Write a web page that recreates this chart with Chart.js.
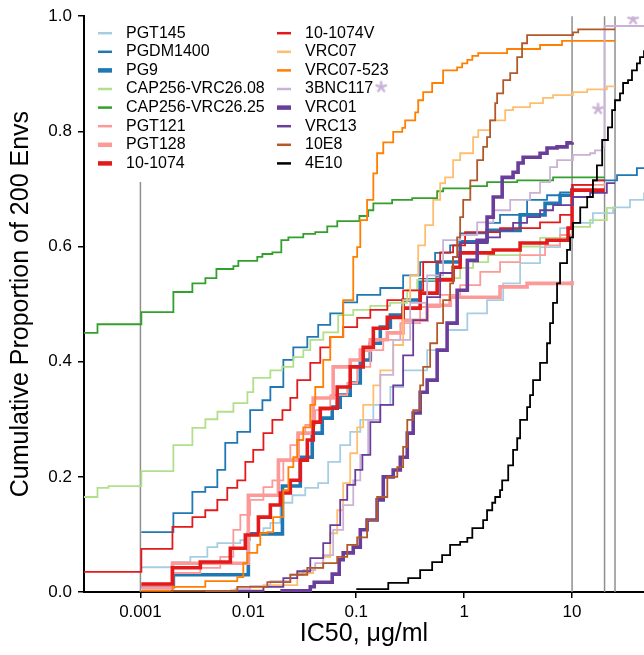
<!DOCTYPE html>
<html>
<head>
<meta charset="utf-8">
<script src="https://cdn.jsdelivr.net/npm/chart.js@4.4.1/dist/chart.umd.min.js"></script>
<style>
  html, body { margin: 0; padding: 0; background: #fff; }
  #wrap { width: 644px; height: 655px; }
</style>
</head>
<body>
<div id="wrap"><canvas id="cdf" width="644" height="655"></canvas></div>
<script>
// Cumulative proportion of 200 envelopes neutralized, by IC50 (ug/ml)
// each pair is [IC50, cumulative proportion]
const PGT145 = [[0.00102,0.043],[0.00198,0.052],[0.0029,0.061],[0.00417,0.078],[0.00516,0.085],[0.00843,0.090],[0.0104,0.102],[0.0138,0.111],[0.016,0.120],[0.0198,0.155],[0.0256,0.168],[0.0337,0.181],[0.0444,0.189],[0.0549,0.226],[0.071,0.255],[0.0879,0.278],[0.109,0.299],[0.144,0.325],[0.207,0.356],[0.272,0.385],[0.454,0.420],[0.695,0.455],[1.07,0.484],[1.63,0.507],[2.30,0.536],[3.30,0.571],[5.05,0.599],[7.74,0.632],[10.2,0.641],[15.6,0.658],[24.0,0.668],[34.4,0.681],[46.4,0.694]];
const PGDM1400 = [[0.00102,0.104],[0.00202,0.137],[0.00303,0.174],[0.00399,0.182],[0.00516,0.212],[0.00611,0.259],[0.0079,0.278],[0.0104,0.316],[0.0135,0.333],[0.016,0.356],[0.0211,0.403],[0.0261,0.425],[0.0352,0.443],[0.0444,0.464],[0.0574,0.484],[0.0757,0.503],[0.102,0.516],[0.167,0.528],[0.272,0.550],[0.391,0.573],[0.538,0.589],[0.741,0.602],[0.918,0.623],[1.63,0.641],[2.15,0.655],[3.83,0.681],[5.86,0.689],[7.74,0.694],[10.2,0.707],[15.6,0.715],[26.1,0.724],[39.9,0.736],[46.4,0.736]];
const PG9 = [[0.00102,0.009],[0.00202,0.030],[0.01,0.101],[0.0207,0.184],[0.0303,0.234],[0.0391,0.276],[0.0484,0.302],[0.0599,0.321],[0.071,0.342],[0.0879,0.363],[0.109,0.403],[0.135,0.432],[0.167,0.460],[0.207,0.481],[0.272,0.507],[0.391,0.542],[0.562,0.573],[0.918,0.608],[1.63,0.628],[3.30,0.655],[5.62,0.675],[7.74,0.689],[10,0.701]];
const CAP256_08 = [[0.0003,0.165],[0.0004,0.181],[0.000506,0.184],[0.00102,0.21],[0.00202,0.255],[0.00303,0.285],[0.0040,0.30],[0.00517,0.313],[0.00727,0.328],[0.0098,0.347],[0.0111,0.372],[0.016,0.385],[0.0206,0.391],[0.0261,0.408],[0.0323,0.42],[0.0375,0.438],[0.0495,0.451],[0.068,0.481],[0.0938,0.49],[0.135,0.497],[0.206,0.502],[0.297,0.524],[0.367,0.542],[0.562,0.545],[0.918,0.563],[1.21,0.573],[1.67,0.585],[3.30,0.60],[5.06,0.615],[10.2,0.634],[14.7,0.646],[21,0.667],[25,0.667]];
const CAP256_25 = [[0.0003,0.45],[0.0004,0.465],[0.00102,0.486],[0.00202,0.521],[0.00303,0.536],[0.0040,0.545],[0.00506,0.561],[0.00727,0.566],[0.00808,0.575],[0.0121,0.582],[0.0135,0.587],[0.0167,0.59],[0.0202,0.611],[0.0235,0.616],[0.0323,0.622],[0.0417,0.625],[0.0539,0.635],[0.0667,0.644],[0.107,0.653],[0.129,0.663],[0.144,0.675],[0.215,0.681],[0.330,0.684],[0.562,0.696],[0.639,0.701],[1.14,0.705],[1.63,0.712],[3.10,0.715],[6.67,0.720],[20,0.720]];
const PGT121 = [[0.00102,0.012],[0.00198,0.033],[0.00359,0.042],[0.00549,0.061],[0.00726,0.108],[0.00843,0.134],[0.0104,0.160],[0.0138,0.182],[0.0167,0.194],[0.0211,0.229],[0.0245,0.255],[0.0284,0.276],[0.0337,0.290],[0.0417,0.316],[0.0574,0.342],[0.0825,0.363],[0.102,0.391],[0.135,0.420],[0.178,0.438],[0.256,0.467],[0.391,0.495],[0.599,0.516],[0.918,0.533],[1.41,0.556],[2.15,0.573],[3.30,0.585],[5.62,0.602],[7.74,0.620],[10,0.707],[20,0.710]];
const PGT128 = [[0.00102,0.007],[0.00198,0.050],[0.01,0.168],[0.019,0.229],[0.029,0.276],[0.0399,0.337],[0.0611,0.391],[0.0879,0.403],[0.109,0.420],[0.135,0.438],[0.194,0.450],[0.272,0.472],[0.454,0.498],[0.741,0.512],[2.15,0.530],[3.83,0.536],[10,0.54]];
const T1074 = [[0.00102,0.014],[0.00198,0.042],[0.00359,0.052],[0.00681,0.076],[0.00938,0.099],[0.0124,0.130],[0.016,0.151],[0.0198,0.172],[0.0245,0.194],[0.0303,0.229],[0.0352,0.264],[0.0399,0.295],[0.0464,0.319],[0.0666,0.356],[0.0879,0.391],[0.116,0.425],[0.144,0.458],[0.194,0.477],[0.272,0.493],[0.391,0.519],[0.562,0.542],[0.79,0.564],[0.918,0.589],[1.86,0.594],[3.30,0.606],[5.86,0.611],[9.18,0.632],[10,0.698],[20,0.698]];
const T1074V = [[0.0003,0.035],[0.00102,0.075],[0.00198,0.113],[0.00303,0.130],[0.00399,0.142],[0.00516,0.160],[0.00638,0.181],[0.0079,0.194],[0.00938,0.226],[0.0111,0.247],[0.0138,0.276],[0.0167,0.299],[0.0207,0.316],[0.0245,0.337],[0.0284,0.368],[0.0375,0.398],[0.0464,0.425],[0.0574,0.443],[0.0757,0.460],[0.102,0.476],[0.135,0.490],[0.194,0.507],[0.272,0.524],[0.417,0.573],[0.599,0.590],[0.79,0.602],[1.02,0.625],[2.15,0.632],[5.05,0.642],[7.74,0.655],[10,0.707],[15.6,0.715],[20,0.715]];
const VRC07 = [[0.00681,0.003],[0.0138,0.012],[0.0284,0.033],[0.0399,0.042],[0.0494,0.061],[0.0574,0.102],[0.0666,0.142],[0.0757,0.189],[0.0879,0.241],[0.102,0.286],[0.116,0.325],[0.144,0.359],[0.167,0.385],[0.22,0.429],[0.272,0.507],[0.316,0.550],[0.375,0.602],[0.435,0.637],[0.516,0.681],[0.599,0.710],[0.666,0.720],[0.79,0.75],[0.918,0.762],[1.21,0.790],[1.35,0.802],[1.74,0.819],[2.40,0.837],[2.84,0.842],[4.08,0.849],[5.38,0.858],[6.66,0.863],[10.2,0.868],[13.8,0.873],[21,0.878],[25,0.878]];
const VRC07_523 = [[0.00102,0.002],[0.00198,0.009],[0.00399,0.019],[0.0079,0.026],[0.00898,0.050],[0.0098,0.068],[0.0121,0.082],[0.0129,0.102],[0.015,0.104],[0.017,0.130],[0.0211,0.177],[0.0235,0.217],[0.0261,0.234],[0.0284,0.264],[0.0323,0.286],[0.0375,0.325],[0.0417,0.356],[0.0494,0.403],[0.0574,0.443],[0.0757,0.507],[0.0938,0.582],[0.102,0.599],[0.109,0.646],[0.126,0.681],[0.144,0.727],[0.156,0.762],[0.178,0.781],[0.22,0.799],[0.267,0.806],[0.284,0.819],[0.352,0.833],[0.375,0.854],[0.417,0.868],[0.505,0.884],[0.638,0.906],[0.861,0.911],[0.958,0.918],[1.07,0.924],[1.19,0.931],[1.35,0.936],[2.50,0.943],[5.05,0.950],[8.07,0.957],[25,0.957]];
const BNC117 = [[0.00399,0.002],[0.00757,0.005],[0.0104,0.010],[0.016,0.019],[0.0245,0.030],[0.0323,0.038],[0.0417,0.050],[0.0494,0.064],[0.0611,0.108],[0.0757,0.151],[0.0938,0.194],[0.109,0.238],[0.129,0.299],[0.167,0.377],[0.22,0.438],[0.316,0.502],[0.454,0.550],[0.638,0.611],[0.918,0.620],[1.32,0.642],[1.86,0.663],[2.67,0.681],[4.08,0.693],[5.05,0.712],[6.25,0.738],[7.26,0.750],[10.2,0.759],[14.7,0.762],[16.3,0.767],[19.0,0.773],[20,0.983],[46.4,0.983]];
const VRC01 = [[0.0198,0.002],[0.0375,0.009],[0.0408,0.017],[0.0599,0.031],[0.0695,0.056],[0.0757,0.068],[0.0938,0.078],[0.109,0.108],[0.126,0.125],[0.156,0.160],[0.178,0.200],[0.22,0.212],[0.256,0.234],[0.297,0.276],[0.337,0.311],[0.391,0.347],[0.454,0.368],[0.562,0.420],[0.695,0.467],[0.861,0.524],[1.07,0.576],[1.32,0.611],[1.63,0.651],[1.86,0.686],[2.25,0.720],[2.84,0.729],[3.16,0.745],[3.52,0.755],[5.05,0.762],[5.86,0.771],[7.26,0.773],[8.98,0.780],[10,0.781]];
const VRC13 = [[0.00681,0.002],[0.0138,0.009],[0.0211,0.024],[0.0284,0.036],[0.0375,0.059],[0.0494,0.085],[0.0574,0.116],[0.071,0.160],[0.0825,0.186],[0.0979,0.212],[0.114,0.238],[0.135,0.295],[0.167,0.325],[0.22,0.359],[0.272,0.411],[0.337,0.472],[0.454,0.512],[0.599,0.554],[0.79,0.582],[0.918,0.606],[1.63,0.616],[2.15,0.628],[2.84,0.641],[3.83,0.651],[5.05,0.663],[6.66,0.672],[10.2,0.686],[14.7,0.693],[21,0.710],[25,0.710]];
const E8 = [[0.0019,0.002],[0.0079,0.009],[0.015,0.017],[0.0245,0.030],[0.0352,0.042],[0.0494,0.050],[0.0666,0.061],[0.0825,0.082],[0.102,0.095],[0.126,0.125],[0.156,0.165],[0.194,0.200],[0.24,0.217],[0.272,0.252],[0.297,0.299],[0.337,0.316],[0.391,0.359],[0.417,0.391],[0.484,0.432],[0.562,0.467],[0.638,0.507],[0.741,0.536],[0.79,0.582],[0.861,0.616],[0.918,0.651],[0.979,0.681],[1.14,0.715],[1.32,0.750],[1.50,0.773],[1.63,0.790],[1.74,0.819],[1.94,0.849],[2.02,0.866],[2.30,0.889],[2.67,0.901],[3.10,0.929],[3.44,0.953],[3.83,0.967],[10.2,0.972],[11.4,0.977],[25,0.977]];
const E10 = [[0.1,0.005],[0.198,0.016],[0.303,0.024],[0.391,0.038],[0.505,0.052],[0.625,0.064],[0.741,0.082],[0.918,0.087],[1.07,0.094],[1.19,0.111],[1.50,0.125],[1.63,0.142],[1.82,0.155],[1.94,0.165],[2.15,0.177],[2.25,0.194],[2.56,0.220],[2.84,0.247],[3.10,0.267],[3.30,0.299],[3.83,0.321],[4.08,0.342],[4.35,0.368],[5.05,0.398],[5.86,0.432],[6.25,0.467],[6.66,0.502],[7.26,0.536],[7.74,0.571],[8.98,0.594],[9.58,0.616],[10.2,0.641],[11.9,0.668],[13.8,0.686],[15.6,0.715],[17.0,0.741],[19.0,0.785],[21.5,0.807],[23.5,0.837],[25,0.854],[27.8,0.866],[29.7,0.884],[33.0,0.889],[35.9,0.906],[39.9,0.918],[42.6,0.929],[46.4,0.941]];

// asterisks flagging 3BNC117
const STARS = [[17.4,0.839],[36.7,0.995]];

// reference concentrations (vertical grey lines) and how high each one reaches
const refLines = [[0.001,0.712],[10,1],[20,1],[25,1]];

const xTicks = [0.001, 0.01, 0.1, 1, 10];
const yTicks = [0, 0.2, 0.4, 0.6, 0.8, 1.0];

const series = [
  { name: 'PGT145', data: PGT145, color: '#a6cee3', thick: false },
  { name: 'PGDM1400', data: PGDM1400, color: '#1f78b4', thick: false },
  { name: 'PG9', data: PG9, color: '#1f78b4', thick: true },
  { name: 'CAP256-VRC26.08', data: CAP256_08, color: '#b2df8a', thick: false },
  { name: 'CAP256-VRC26.25', data: CAP256_25, color: '#33a02c', thick: false },
  { name: 'PGT121', data: PGT121, color: '#fb9a99', thick: false },
  { name: 'PGT128', data: PGT128, color: '#fb9a99', thick: true },
  { name: '10-1074', data: T1074, color: '#e31a1c', thick: true },
  { name: '10-1074V', data: T1074V, color: '#e31a1c', thick: false },
  { name: 'VRC07', data: VRC07, color: '#fdbf6f', thick: false },
  { name: 'VRC07-523', data: VRC07_523, color: '#ff7f00', thick: false },
  { name: '3BNC117', data: BNC117, color: '#cab2d6', thick: false },
  { name: 'VRC01', data: VRC01, color: '#6a3d9a', thick: true },
  { name: 'VRC13', data: VRC13, color: '#6a3d9a', thick: false },
  { name: '10E8', data: E8, color: '#b15928', thick: false },
  { name: '4E10', data: E10, color: '#000000', thick: false }
];

const FONT = '"Liberation Sans", Arial, Helvetica, sans-serif';
const STAR_COLOR = '#cab2d6';

// five-armed asterisk used as a point marker
function makeAsterisk(r, color, lw) {
  const c = document.createElement('canvas');
  const s = Math.ceil(2 * r + lw + 2);
  c.width = s; c.height = s;
  const g = c.getContext('2d');
  g.strokeStyle = color;
  g.lineWidth = lw;
  g.beginPath();
  for (let k = 0; k < 5; k++) {
    const a = -Math.PI / 2 + k * 2 * Math.PI / 5;
    g.moveTo(s / 2, s / 2);
    g.lineTo(s / 2 + r * Math.cos(a), s / 2 + r * Math.sin(a));
  }
  g.stroke();
  return c;
}
const asterisk = makeAsterisk(6, STAR_COLOR, 2.4);

const datasets = series.map((s, i) => ({
  label: s.name,
  data: s.data.map(p => ({ x: p[0], y: p[1] })),
  borderColor: s.color,
  backgroundColor: s.color,
  borderWidth: s.thick ? 3.6 : 1.8,
  stepped: true,
  pointRadius: 0,
  fill: false,
  order: 100 - i   // later legend entries on top
}));

datasets.push({
  label: 'stars',
  data: STARS.map(p => ({ x: p[0], y: p[1] })),
  showLine: false,
  pointStyle: asterisk,
  pointRadius: 6,
  order: 0
});

// grey reference lines behind the curves
const refLinePlugin = {
  id: 'refLines',
  beforeDatasetsDraw(chart) {
    const ctx = chart.ctx;
    const xs = chart.scales.x, ys = chart.scales.y;
    ctx.save();
    ctx.strokeStyle = '#8f8f8f';
    ctx.lineWidth = 1.5;
    refLines.forEach(([v, top]) => {
      const px = xs.getPixelForValue(v);
      ctx.beginPath();
      ctx.moveTo(px, ys.getPixelForValue(0));
      ctx.lineTo(px, ys.getPixelForValue(top));
      ctx.stroke();
    });
    ctx.restore();
  }
};

// two-column legend in the top-left corner of the plot
const cornerLegend = {
  id: 'cornerLegend',
  afterDatasetsDraw(chart) {
    const ctx = chart.ctx;
    const area = chart.chartArea;
    ctx.save();
    ctx.font = '16px ' + FONT;
    ctx.textBaseline = 'middle';
    ctx.textAlign = 'left';
    series.forEach((s, i) => {
      const col = Math.floor(i / 8);
      const row = i % 8;
      const x = area.left + 14 + col * 179;
      const y = area.top + 17 + row * 18.6;
      ctx.strokeStyle = s.color;
      ctx.lineWidth = s.thick ? 4.5 : 2.5;
      ctx.beginPath();
      ctx.moveTo(x, y);
      ctx.lineTo(x + 14, y);
      ctx.stroke();
      ctx.fillStyle = '#000';
      ctx.fillText(s.name, x + 28, y);
      if (s.name === '3BNC117') {
        const w = ctx.measureText(s.name).width;
        ctx.drawImage(asterisk, x + 28 + w + 8 - asterisk.width / 2, y - 2 - asterisk.height / 2);
      }
    });
    ctx.restore();
  }
};

const ctx = document.getElementById('cdf').getContext('2d');
const chart = new Chart(ctx, {
  type: 'line',
  data: { datasets: datasets },
  plugins: [refLinePlugin, cornerLegend],
  options: {
    responsive: false,
    devicePixelRatio: 1,
    animation: false,
    layout: { autoPadding: false, padding: { top: 16, right: 0, left: 0, bottom: 0 } },
    plugins: {
      legend: { display: false },
      tooltip: { enabled: false }
    },
    scales: {
      x: {
        type: 'logarithmic',
        min: 0.0003,
        max: 46.4,
        afterBuildTicks: (scale) => { scale.ticks = xTicks.map(v => ({ value: v })); },
        afterFit: (scale) => { scale.height = 63; },
        ticks: {
          color: '#000',
          font: { family: FONT, size: 17 },
          padding: 4,
          maxRotation: 0,
          autoSkip: false,
          callback: (v) => String(v)
        },
        grid: { drawOnChartArea: false, color: '#000', lineWidth: 1.5, tickLength: 6 },
        border: { color: '#000', width: 2 },
        title: {
          display: true,
          text: 'IC50, \u03bcg/ml',
          color: '#000',
          font: { family: FONT, size: 25 },
          padding: { top: 0, bottom: 6 }
        }
      },
      y: {
        min: 0,
        max: 1,
        afterBuildTicks: (scale) => { scale.ticks = yTicks.map(v => ({ value: v })); },
        afterFit: (scale) => { scale.width = 84; },
        ticks: {
          color: '#000',
          font: { family: FONT, size: 17 },
          padding: 6,
          callback: (v) => Number(v).toFixed(1)
        },
        grid: { drawOnChartArea: false, color: '#000', lineWidth: 1.5, tickLength: 6 },
        border: { color: '#000', width: 2 },
        title: {
          display: true,
          text: 'Cumulative Proportion of 200 Envs',
          color: '#000',
          font: { family: FONT, size: 25 },
          padding: { top: 6, bottom: 0 }
        }
      }
    }
  }
});
</script>
</body>
</html>
